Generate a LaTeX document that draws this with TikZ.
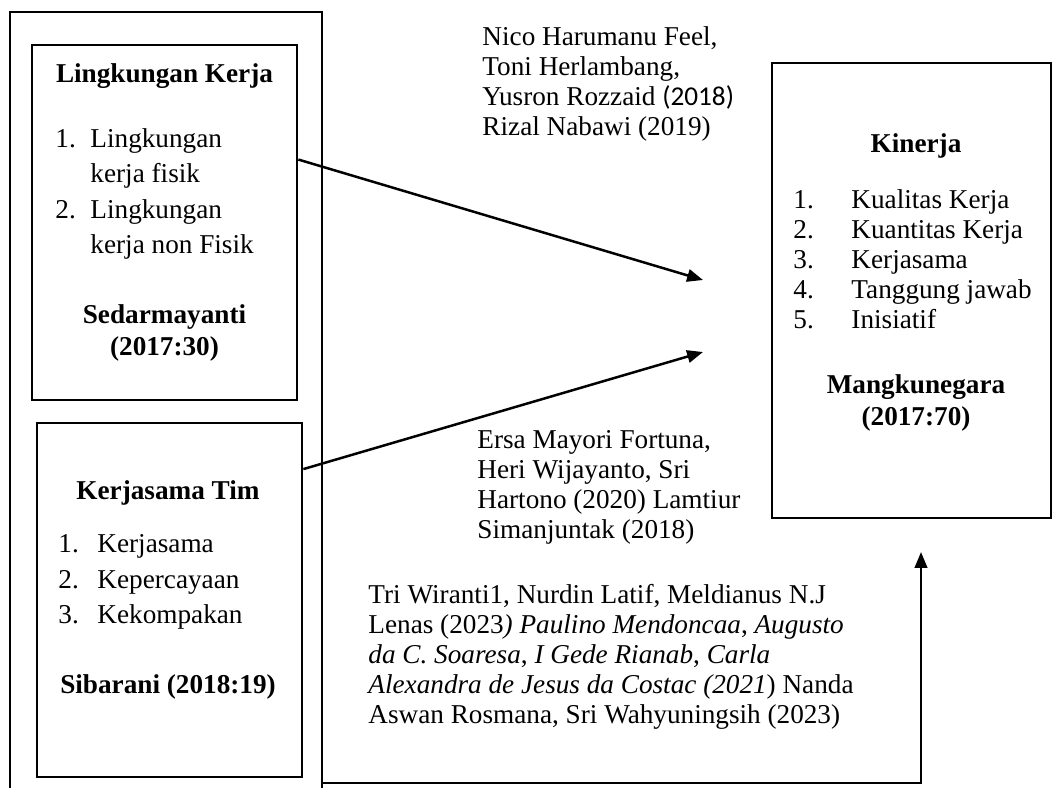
\documentclass[tikz,border=0pt]{standalone}
\usepackage{fontspec}
\setmainfont{Liberation Serif}
\newfontfamily\carlito{Carlito}
\usetikzlibrary{fit,calc,arrows.meta}
\begin{document}
\begin{tikzpicture}[x=0.441pt,y=-0.441pt,
  box/.style={draw, inner sep=0pt, line width=1.2pt},
  txt/.style={inner sep=0pt, font=\fontsize{12}{13.23}\selectfont, align=left, anchor=base west},
  ltxt/.style={inner sep=0pt, font=\fontsize{12}{15.44}\selectfont, align=left, anchor=base west},
  hd/.style={inner sep=0pt, font=\fontsize{12}{14}\selectfont\bfseries, anchor=base},
  arr/.style={-{Triangle[length=7pt,width=5.5pt]}, line width=1.1pt}]
\clip (0,0) rectangle (1055,787);
% boxes
\node[box, fit={(10,12) (322,810)}] (outer) {};
\node[box, fit={(32,45) (297,400)}] (lk) {};
\node[box, fit={(37,423) (302,777)}] (kt) {};
\node[box, fit={(772,63) (1051,518)}] (kin) {};
% box 1 (multi-line nodes: base = baseline of last line)
\node[hd] (lkh) at (164.5,82) {Lingkungan Kerja};
\node[ltxt] (lkn) at (55,253) {1.\\\mbox{}\\2.\\\mbox{}};
\node[ltxt] (lkt) at (90,253) {Lingkungan\\kerja fisik\\Lingkungan\\kerja non Fisik};
\node[hd] (lks1) at (164.5,323) {Sedarmayanti};
\node[hd] (lks2) at (164.5,355) {(2017:30)};
% box 2
\node[hd] (kth) at (168,499) {Kerjasama Tim};
\node[ltxt] (ktn) at (58,623) {1.\\2.\\3.};
\node[ltxt] (ktt) at (97,623) {Kerjasama\\Kepercayaan\\Kekompakan};
\node[hd] (kts) at (168,693) {Sibarani (2018:19)};
% kinerja
\node[hd] (kinh) at (916,152) {Kinerja};
\node[txt] (kinn) at (793,328) {1.\\2.\\3.\\4.\\5.};
\node[txt] (kint) at (851,328) {Kualitas Kerja\\Kuantitas Kerja\\Kerjasama\\Tanggung jawab\\Inisiatif};
\node[hd] (kins1) at (916,393) {Mangkunegara};
\node[hd] (kins2) at (916,425) {(2017:70)};
% references
\node[txt] (ref1) at (482,135) {Nico Harumanu Feel,\\Toni Herlambang,\\Yusron Rozzaid {\carlito (2018)}\\Rizal Nabawi (2019)};
\node[txt] (ref2) at (477,538) {Ersa Mayori Fortuna,\\Heri Wijayanto, Sri\\Hartono (2020) Lamtiur\\Simanjuntak (2018)};
\node[txt] (ref3) at (368,723) {Tri Wiranti1, Nurdin Latif, Meldianus N.J\\Lenas (2023\textit{) Paulino Mendoncaa}, \textit{Augusto}\\\textit{da C. Soaresa}, \textit{I Gede Rianab}, \textit{Carla}\\\textit{Alexandra de Jesus da Costac (2021}) Nanda\\Aswan Rosmana, Sri Wahyuningsih (2023)};
% connectors
\coordinate (t1) at (703,280);
\coordinate (t2) at (703,352);
\coordinate (c2) at (921,783);
\coordinate (t3) at (921,552);
\draw[arr] ($(lk.north east)!0.324!(lk.south east)$) -- (t1);
\draw[arr] ($(kt.north east)!0.133!(kt.south east)$) -- (t2);
\draw[arr] (outer.east |- c2) -- (c2) -- (t3);
\end{tikzpicture}
\end{document}
